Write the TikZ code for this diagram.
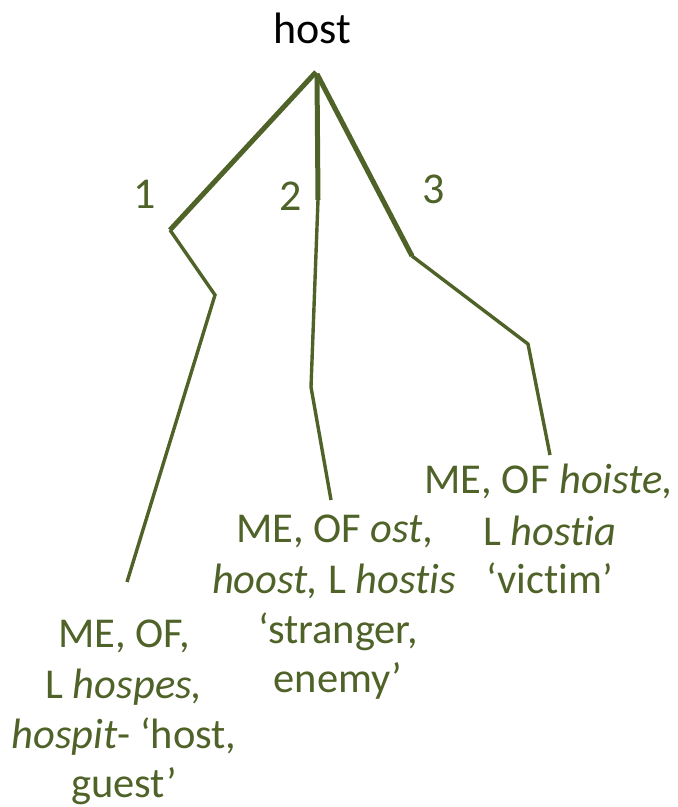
\documentclass[tikz,border=0pt]{standalone}
\usepackage{fontspec}
\setmainfont{Carlito}[Ligatures=NoCommon]
\definecolor{olive}{RGB}{79,98,40}
\begin{document}
\begin{tikzpicture}[x=1pt,y=-1pt,
  lbl/.style={font=\fontsize{42.5}{50}\selectfont, text=olive, inner sep=0pt, anchor=base},
  num/.style={font=\fontsize{44}{52}\selectfont, text=olive, inner sep=0pt, anchor=base},
  thickseg/.style={draw=olive, line width=5pt},
  thinseg/.style={draw=olive, line width=3.4pt, line join=miter}]
\useasboundingbox (0,0) rectangle (678,807);
\node[font=\fontsize{44}{52}\selectfont, inner sep=0pt, anchor=base] (host) at (312,43) {host};
\node[num] (n1) at (145,208) {1};
\node[num] (n2) at (291,210) {2};
\node[num] (n3) at (434,203) {3};
% branch points
\coordinate (apex) at (316,72);
\coordinate (apexb) at (317,74);
\coordinate (b1) at (170,230);
\coordinate (c1) at (215,295);
\coordinate (e1) at (127,582);
\coordinate (b2) at (318,200);
\coordinate (c2) at (311,387);
\coordinate (e2) at (331,500);
\coordinate (b3) at (412,256);
\coordinate (c3) at (528,344);
\coordinate (e3) at (550,455);
\draw[thickseg] (apex) -- (b1);
\draw[thickseg] (apexb) -- (b2);
\draw[thickseg] (apexb) -- (b3);
\draw[thinseg] (b1) -- (c1) -- (e1);
\draw[thinseg] (b2) -- (c2) -- (e2);
\draw[thinseg] (b3) -- (c3) -- (e3);
% block 1
\node[lbl] (t1a) at (124,647) {ME, OF,};
\node[lbl] (t1b) at (124,698) {L \textit{hospes,}};
\node[lbl] (t1c) at (124,748) {\textit{hospit}- ‘host,};
\node[lbl] (t1d) at (124,797) {guest’};
% block 2
\node[lbl] (t2a) at (335,542) {ME, OF \textit{ost,}};
\node[lbl] (t2b) at (334,593) {\textit{hoost,} L \textit{hostis}};
\node[lbl] (t2c) at (338,643) {‘stranger,};
\node[lbl] (t2d) at (338,692) {enemy’};
% block 3
\node[lbl] (t3a) at (549,493) {ME, OF \textit{hoiste,}};
\node[lbl] (t3b) at (550,545) {L \textit{hostia}};
\node[lbl] (t3c) at (550,593) {‘victim’};
\end{tikzpicture}
\end{document}
